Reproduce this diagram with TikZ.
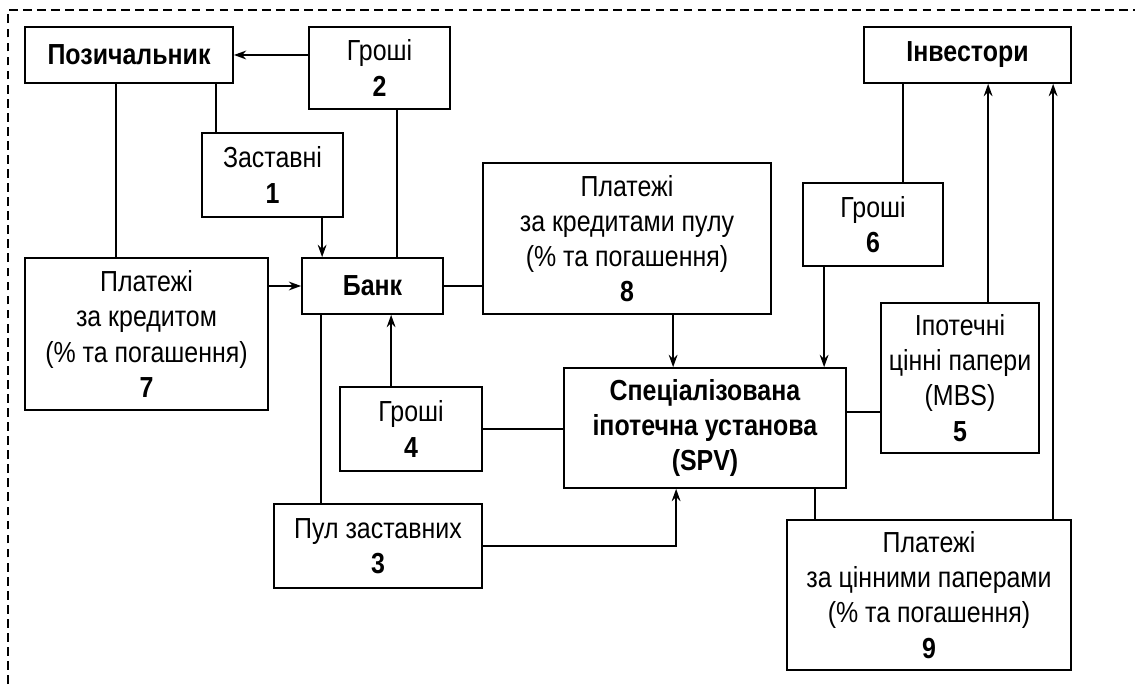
\documentclass[tikz,border=0pt]{standalone}
\usepackage{fontspec}
\setmainfont{Liberation Sans}[FakeStretch=0.86]
\usetikzlibrary{arrows.meta}

\tikzset{
    box/.style={draw, line width=1pt, align=center, inner sep=2pt,
        font=\fontsize{16.5}{20}\selectfont},
}

\begin{document}
\begin{tikzpicture}[>={Stealth[length=7pt,width=5pt]}, line width=1pt]
    \useasboundingbox (0,0) rectangle (22.7,13.68);
    \draw[dash pattern=on 5pt off 3pt] (0.16,0) -- (0.16,13.48) -- (22.7,13.48);

    \node[box, minimum width=4.16cm, minimum height=1.12cm] at (2.58, 12.58)(bor){\textbf{Позичальник}};
    \node[box, minimum width=2.82cm, minimum height=1.64cm] at (7.59, 12.32)(m2){Гроші\\\textbf{2}};
    \node[box, minimum width=2.82cm, minimum height=1.68cm] at (5.45, 10.18)(z1){Заставні\\\textbf{1}};
    \node[box, minimum width=4.86cm, minimum height=3.04cm] at (2.93, 7.00)(p7){Платежі\\за кредитом\\(\% та погашення)\\\textbf{7}};
    \node[box, minimum width=2.82cm, minimum height=1.12cm] at (7.45, 7.96)(bank){\textbf{Банк}};
    \node[box, minimum width=5.76cm, minimum height=3.02cm] at (12.54, 8.91)(p8){Платежі\\за кредитами пулу\\(\% та погашення)\\\textbf{8}};
    \node[box, minimum width=2.84cm, minimum height=1.68cm] at (8.22, 5.10)(m4){Гроші\\\textbf{4}};
    \node[box, minimum width=4.16cm, minimum height=1.68cm] at (7.56, 2.76)(pool3){Пул заставних\\\textbf{3}};
    \node[box, minimum width=5.64cm, minimum height=2.40cm] at (14.10, 5.12)(spv){\textbf{Спеціалізована}\\\textbf{іпотечна установа}\\\textbf{(SPV)}};
    \node[box, minimum width=4.14cm, minimum height=1.12cm] at (19.35, 12.58)(inv){\textbf{Інвестори}};
    \node[box, minimum width=2.80cm, minimum height=1.66cm] at (17.46, 9.19)(m6){Гроші\\\textbf{6}};
    \node[box, minimum width=3.16cm, minimum height=3.00cm] at (19.20, 6.12)(mbs5){Іпотечні\\цінні папери\\(MBS)\\\textbf{5}};
    \node[box, minimum width=5.68cm, minimum height=3.00cm] at (18.58, 1.78)(p9){Платежі\\за цінними паперами\\(\% та погашення)\\\textbf{9}};

    % borrower side
    \draw[->] (m2.west |- bor.east) -- (bor.east);
    \draw ([xshift=0.3cm]z1.north west) -- ([xshift=0.3cm]z1.north west |- bor.south);
    \draw ([xshift=1.84cm]bor.south west) -- ([xshift=1.84cm]bor.south west |- p7.north);
    \draw[->] ([xshift=0.42cm]bank.north west |- z1.south) -- ([xshift=0.42cm]bank.north west);
    \draw ([xshift=-0.94cm]bank.north east) -- ([xshift=-0.94cm]bank.north east |- m2.south);
    \draw[->] (p7.east |- bank.west) -- (bank.west);

    % bank and SPV
    \draw (bank.east) -- (bank.east -| p8.west);
    \draw ([xshift=0.4cm]bank.south west) -- ([xshift=0.4cm]bank.south west |- pool3.north);
    \draw[->] ([xshift=1.8cm]bank.south west |- m4.north) -- ([xshift=1.8cm]bank.south west);
    \draw (m4.east) -- (m4.east -| spv.west);
    \draw[->] (pool3.east) -| ([xshift=2.26cm]spv.south west);
    \draw[->] ([xshift=2.2cm]spv.north west |- p8.south) -- ([xshift=2.2cm]spv.north west);
    \draw[->] ([xshift=5.22cm]spv.north west |- m6.south) -- ([xshift=5.22cm]spv.north west);

    % investors
    \draw ([xshift=0.8cm]inv.south west) -- ([xshift=0.8cm]inv.south west |- m6.north);
    \draw[->] ([xshift=2.5cm]inv.south west |- mbs5.north) -- ([xshift=2.5cm]inv.south west);
    \draw[->] ([xshift=3.8cm]inv.south west |- p9.north) -- ([xshift=3.8cm]inv.south west);
    \draw ([yshift=0.32cm]spv.east) -- ([yshift=0.32cm]spv.east -| mbs5.west);
    \draw ([xshift=5.04cm]spv.south west) -- ([xshift=5.04cm]spv.south west |- p9.north);
\end{tikzpicture}
\end{document}
